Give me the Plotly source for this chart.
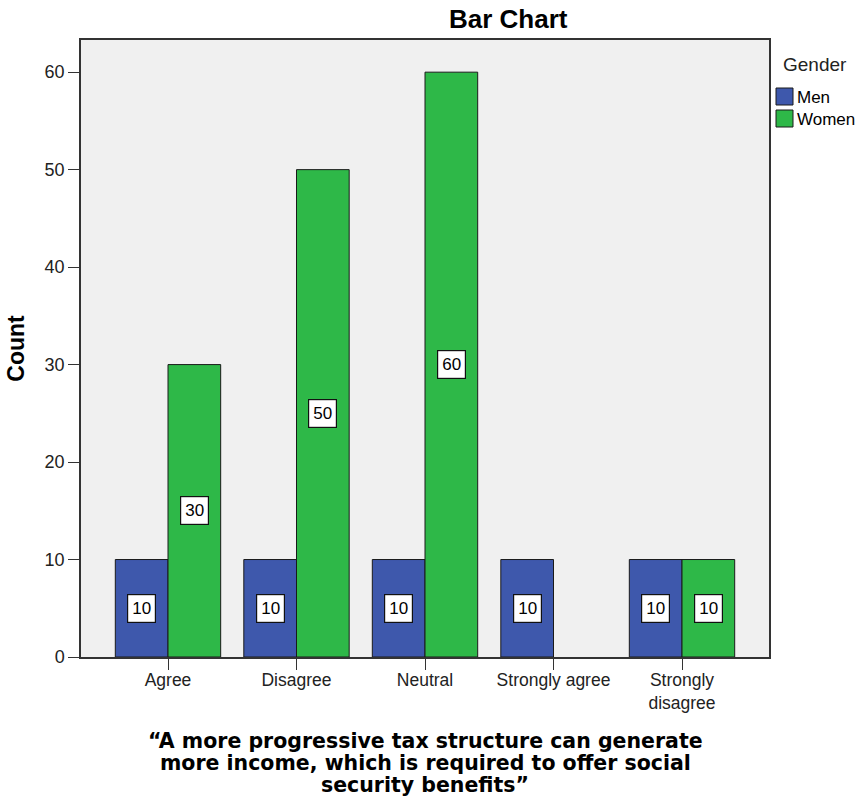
import plotly.graph_objects as go

# Survey responses by gender
categories = ["Agree", "Disagree", "Neutral", "Strongly agree", "Strongly disagree"]
tick_labels = ["Agree", "Disagree", "Neutral", "Strongly agree", "Strongly<br>disagree"]
men_counts = [10, 10, 10, 10, 10]
women_counts = [30, 50, 60, 0, 10]
y_ticks = [0, 10, 20, 30, 40, 50, 60]
series_names = ["Men", "Women"]
legend_title = "Gender"
x_title_lines = [
    "“A more progressive tax structure can generate",
    "more income, which is required to offer social",
    "security benefits”",
]

MEN_COLOR = "#3E58AC"
WOMEN_COLOR = "#2EB848"
COLORS = [MEN_COLOR, WOMEN_COLOR]
BAR_WIDTH = 0.41

W, H = 857, 801
ML, MR, MT, MB = 81, 88, 40, 144
PW, PH = W - ML - MR, H - MT - MB


def px_x(px):
    """Pixel column -> paper x."""
    return (px - ML) / PW


def px_y(py):
    """Pixel row -> paper y."""
    return (H - MB - py) / PH


idx = list(range(len(categories)))

fig = go.Figure()
for name, counts, color, off in zip(series_names, (men_counts, women_counts), COLORS, (-BAR_WIDTH, 0)):
    fig.add_trace(go.Bar(
        x=idx, y=[v if v > 0 else None for v in counts], name=name,
        width=BAR_WIDTH, offset=off,
        marker=dict(color=color, line=dict(color="#1a1a1a", width=1)),
    ))

annotations = []
# Boxed count labels at mid-height of each bar
for counts, sign in ((men_counts, -1), (women_counts, 1)):
    for i, v in zip(idx, counts):
        if v <= 0:
            continue
        annotations.append(dict(
            x=i + sign * BAR_WIDTH / 2, y=v / 2, xref="x", yref="y",
            text=str(v), showarrow=False,
            font=dict(family="Liberation Sans, Arial", size=17, color="black"),
            bgcolor="white", bordercolor="#111111", borderwidth=1.2, borderpad=4,
        ))

# Axis title under the category labels, one line per annotation
for k, line in enumerate(x_title_lines):
    annotations.append(dict(
        x=0.5, xref="paper", y=px_y(741 + 22 * k), yref="paper",
        xanchor="center", yanchor="middle", showarrow=False,
        text=f"<b>{line}</b>",
        font=dict(family="DejaVu Sans", size=20.5, color="black"),
    ))

# Chart title
annotations.append(dict(
    x=px_x(508), xref="paper", y=px_y(19), yref="paper",
    xanchor="center", yanchor="middle", showarrow=False,
    text="<b>Bar Chart</b>",
    font=dict(family="Liberation Sans, Arial", size=26, color="black"),
))

# Legend block on the right
annotations.append(dict(
    x=px_x(781), xref="paper", y=px_y(64), yref="paper",
    xanchor="left", yanchor="middle", showarrow=False,
    text=legend_title, font=dict(family="Liberation Sans, Arial", size=19, color="#222222"),
))
shapes = []
for k, (name, color) in enumerate(zip(series_names, COLORS)):
    top = 88 + 22 * k
    shapes.append(dict(
        type="rect", xref="paper", yref="paper",
        x0=px_x(776), x1=px_x(793), y0=px_y(top + 17), y1=px_y(top),
        fillcolor=color, line=dict(color="#1a1a1a", width=1),
    ))
    annotations.append(dict(
        x=px_x(795), xref="paper", y=px_y(top + 9), yref="paper",
        xanchor="left", yanchor="middle", showarrow=False,
        text=name, font=dict(family="Liberation Sans, Arial", size=17, color="black"),
    ))

fig.update_layout(
    width=W, height=H,
    margin=dict(l=ML, r=MR, t=MT, b=MB, autoexpand=False),
    paper_bgcolor="white",
    plot_bgcolor="#F0F0F0",
    barmode="overlay",
    showlegend=False,
    font=dict(family="Liberation Sans, Arial", size=16, color="#222222"),
    annotations=annotations,
    shapes=shapes,
)

fig.update_xaxes(
    range=[-0.677, 4.677],
    tickmode="array", tickvals=idx, ticktext=tick_labels,
    ticks="outside", ticklen=11, tickcolor="#333333", tickwidth=1,
    showline=True, linecolor="#333333", linewidth=1.5, mirror=True,
    showgrid=False, zeroline=False,
    tickfont=dict(size=17.5, color="#222222"),
    ticklabelstandoff=-5,
)
fig.update_yaxes(
    range=[0, 63.3],
    tickmode="array", tickvals=y_ticks,
    ticks="outside", ticklen=11, tickcolor="#333333", tickwidth=1,
    showline=True, linecolor="#333333", linewidth=1.5, mirror=True,
    showgrid=False, zeroline=False,
    tickfont=dict(size=18, color="#222222"),
    title=dict(text="<b>Count</b>", font=dict(family="Liberation Sans, Arial", size=23, color="black"), standoff=14),
)

fig.write_html("out.html")
